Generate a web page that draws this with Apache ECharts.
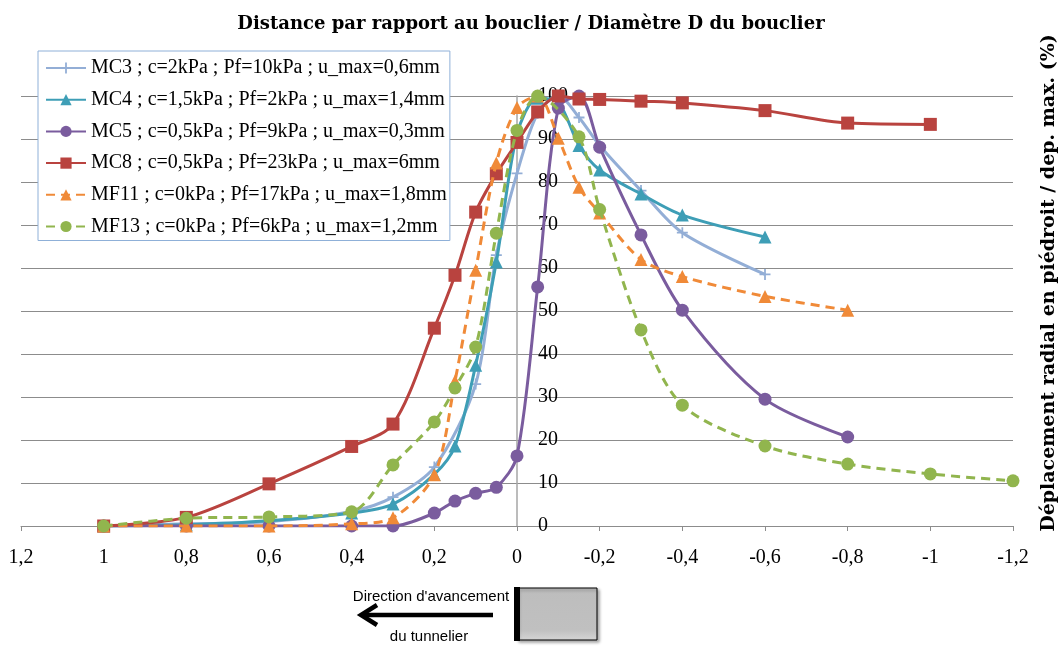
<!DOCTYPE html>
<html>
<head>
<meta charset="utf-8">
<script src="https://cdn.jsdelivr.net/npm/echarts@6/dist/echarts.min.js"></script>
<style>html,body{margin:0;padding:0;background:#fff}#c{width:1062px;height:646px}</style>
</head>
<body>
<div id="c"></div>
<script>
// ---- data ----
const seriesNames = [
  "MC3 ; c=2kPa ; Pf=10kPa ; u_max=0,6mm",
  "MC4 ; c=1,5kPa ; Pf=2kPa ; u_max=1,4mm",
  "MC5 ; c=0,5kPa ; Pf=9kPa ; u_max=0,3mm",
  "MC8 ; c=0,5kPa ; Pf=23kPa ; u_max=6mm",
  "MF11 ; c=0kPa ; Pf=17kPa ; u_max=1,8mm",
  "MF13 ; c=0kPa ; Pf=6kPa ; u_max=1,2mm"
];
const xMC3 = [1, 0.8, 0.6, 0.4, 0.3, 0.2, 0.1, 0.05, 0, -0.05, -0.1, -0.15, -0.2, -0.3, -0.4, -0.6];
const yMC3 = [0, 0.5, 1, 3.4, 6.7, 13.7, 33, 63, 82, 96, 100, 95, 88.5, 78, 68.2, 58.5];
const xMC4 = [1, 0.8, 0.6, 0.4, 0.3, 0.2, 0.15, 0.1, 0.05, 0, -0.05, -0.1, -0.15, -0.2, -0.3, -0.4, -0.6];
const yMC4 = [0, 0.3, 1.2, 3, 5.1, 12, 18.6, 37.4, 61.4, 91, 99.5, 98.5, 88.5, 82.8, 77.2, 72.3, 67.2];
const xMC5 = [1, 0.8, 0.6, 0.4, 0.3, 0.2, 0.15, 0.1, 0.05, 0, -0.05, -0.1, -0.15, -0.2, -0.3, -0.4, -0.6, -0.8];
const yMC5 = [0, 0, 0, 0, 0, 3, 5.8, 7.6, 9, 16.3, 55.6, 97.2, 100, 88.1, 67.7, 50.2, 29.5, 20.7];
const xMC8 = [1, 0.8, 0.6, 0.4, 0.3, 0.2, 0.15, 0.1, 0.05, 0, -0.05, -0.1, -0.15, -0.2, -0.3, -0.4, -0.6, -0.8, -1];
const yMC8 = [0, 2, 9.8, 18.5, 23.7, 46, 58.3, 73, 81.9, 89.2, 96.3, 100, 99.3, 99.2, 98.8, 98.4, 96.6, 93.7, 93.4];
const xMF11 = [1, 0.8, 0.6, 0.4, 0.3, 0.2, 0.15, 0.1, 0.05, 0, -0.05, -0.1, -0.15, -0.2, -0.3, -0.4, -0.6, -0.8];
const yMF11 = [0, 0, 0, 0.5, 1.9, 11.9, 33.7, 59.5, 84.4, 97.3, 100, 90.2, 78.8, 72.8, 62, 58, 53.4, 50.2];
const xMF13 = [1, 0.8, 0.6, 0.4, 0.3, 0.2, 0.15, 0.1, 0.05, 0, -0.05, -0.15, -0.2, -0.3, -0.4, -0.6, -0.8, -1, -1.2];
const yMF13 = [0, 1.8, 2.1, 3.3, 14.2, 24.2, 32.1, 41.6, 68.1, 92, 100, 90.5, 73.6, 45.6, 28.1, 18.6, 14.4, 12.1, 10.5];
const titleText = "Distance par rapport au bouclier / Diamètre D du bouclier";
const yAxisTitle = "Déplacement radial en piédroit / dep. max. (%)";
const noteTop = "Direction d'avancement";
const noteBottom = "du tunnelier";

// ---- styles ----
const serif = "'Liberation Serif', 'DejaVu Serif', serif";
const colors = ['#93AED6', '#3E9EB6', '#7A5C9E', '#B9433F', '#F08A38', '#91B54E'];
const plus = 'path://M4.2,0H5.8V4.2H10V5.8H5.8V10H4.2V5.8H0V4.2H4.2Z';
const symbols = [plus, 'triangle', 'circle', 'rect', 'triangle', 'circle'];
const symSizes = [11, 13, 13, 13, 13, 13];
const dashed = [false, false, false, false, true, true];
const xs = [xMC3, xMC4, xMC5, xMC8, xMF11, xMF13];
const ys = [yMC3, yMC4, yMC5, yMC8, yMF11, yMF13];

const series = seriesNames.map((n, i) => ({
  name: n,
  type: 'line',
  data: xs[i].map((x, k) => [x, ys[i][k]]),
  smooth: 0.3,
  symbol: symbols[i],
  symbolSize: symSizes[i],
  showSymbol: true,
  color: colors[i],
  lineStyle: { width: 3, color: colors[i], type: dashed[i] ? [9, 6] : 'solid' },
  itemStyle: { color: colors[i] },
  emphasis: { disabled: true },
  z: 3 + i
}));

const fmt = v => {
  let s = String(Math.round(v * 10) / 10);
  if (s === '-0') s = '0';
  return s.replace('.', ',');
};

const chart = echarts.init(document.getElementById('c'), null, { renderer: 'canvas' });
chart.setOption({
  animation: false,
  backgroundColor: '#fff',
  title: {
    text: titleText,
    left: 'center',
    top: 10,
    textStyle: { fontFamily: "'DejaVu Serif', serif", fontWeight: 'bold', fontSize: 18, color: '#000' }
  },
  legend: {
    orient: 'vertical',
    left: 38,
    top: 51,
    padding: [7, 3, 4, 7],
    itemWidth: 40,
    itemHeight: 14,
    itemGap: 11.7,
    itemTextGap: 4,
    borderColor: '#8FB0D8',
    borderWidth: 1,
    backgroundColor: '#fff',
    textStyle: { fontFamily: serif, fontSize: 20, color: '#000' },
    data: seriesNames,
    z: 10
  },
  grid: { left: 21, right: 49, top: 96, bottom: 120, containLabel: false },
  xAxis: {
    type: 'value',
    inverse: true,
    min: -1.2,
    max: 1.2,
    interval: 0.2,
    axisLine: { show: true, onZero: false, lineStyle: { color: '#8c8c8c', width: 1 } },
    axisTick: { show: true, length: 5, lineStyle: { color: '#8c8c8c' } },
    splitLine: { show: false },
    axisLabel: { fontFamily: serif, fontSize: 20, color: '#000', margin: 22, formatter: fmt }
  },
  yAxis: {
    type: 'value',
    position: 'right',
    offset: -496,
    min: 0,
    max: 100,
    interval: 10,
    axisLine: { show: true, onZero: false, lineStyle: { color: '#a6a6a6', width: 1.5 } },
    axisTick: { show: false },
    splitLine: { show: true, lineStyle: { color: '#8c8c8c', width: 1 } },
    axisLabel: { fontFamily: serif, fontSize: 20, color: '#000', margin: 21 }
  },
  series: series,
  graphic: [
    {
      type: 'text', x: 1049, y: 283, rotation: Math.PI / 2,
      style: { text: yAxisTitle, font: "bold 19px 'DejaVu Serif', serif", fill: '#000', textAlign: 'center', textVerticalAlign: 'middle', verticalAlign: 'middle' }
    },
    {
      type: 'rect', shape: { x: 517, y: 588, width: 80, height: 52 },
      style: {
        fill: new echarts.graphic.LinearGradient(0, 0, 0, 1, [
          { offset: 0, color: '#bdbdbd' }, { offset: 0.8, color: '#c0c0c0' }, { offset: 1, color: '#d6d6d6' }
        ]),
        stroke: '#000', lineWidth: 1,
        shadowBlur: 3, shadowColor: 'rgba(0,0,0,0.35)', shadowOffsetX: 2, shadowOffsetY: 2
      }
    },
    { type: 'rect', shape: { x: 514, y: 587, width: 6, height: 54 }, style: { fill: '#000' } },
    { type: 'line', shape: { x1: 493, y1: 615, x2: 362, y2: 615 }, style: { stroke: '#000', lineWidth: 4.5 } },
    { type: 'polyline', shape: { points: [[377, 605], [361, 615], [377, 625]] }, style: { stroke: '#000', lineWidth: 4.5, fill: null } },
    {
      type: 'text', x: 431, y: 597,
      style: { text: noteTop, font: "15px 'Liberation Sans', sans-serif", fill: '#000', textAlign: 'center', textVerticalAlign: 'middle', verticalAlign: 'middle' }
    },
    {
      type: 'text', x: 429, y: 637,
      style: { text: noteBottom, font: "15px 'Liberation Sans', sans-serif", fill: '#000', textAlign: 'center', textVerticalAlign: 'middle', verticalAlign: 'middle' }
    }
  ]
});
</script>
</body>
</html>
